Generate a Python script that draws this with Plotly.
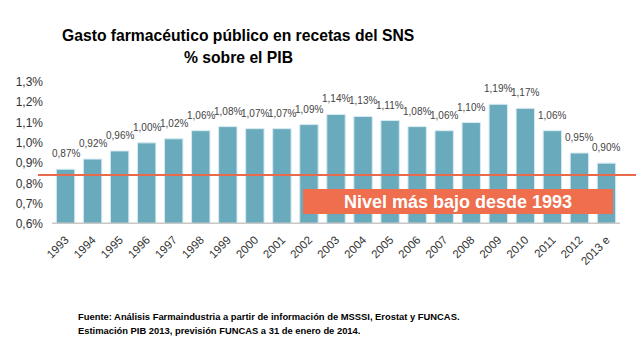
import plotly.graph_objects as go

years = ["1993", "1994", "1995", "1996", "1997", "1998", "1999", "2000", "2001", "2002",
         "2003", "2004", "2005", "2006", "2007", "2008", "2009", "2010", "2011", "2012", "2013 e"]
values = [0.87, 0.92, 0.96, 1.00, 1.02, 1.06, 1.08, 1.07, 1.07, 1.09,
          1.14, 1.13, 1.11, 1.08, 1.06, 1.10, 1.19, 1.17, 1.06, 0.95, 0.90]
labels = [f"{v:.2f}%".replace(".", ",") for v in values]
y_ticks = [0.6, 0.7, 0.8, 0.9, 1.0, 1.1, 1.2, 1.3]
y_ticktext = [f"{v:.1f}%".replace(".", ",") for v in y_ticks]
min_level = 0.842

FONT = "Liberation Sans, Arial, sans-serif"

H = 348
L, R, T, B = 52, 16, 82, 124
PW = 636 - L - R
PH = H - T - B


def py(pix):
    return (H - B - pix) / PH


def px(pix):
    return (pix - L) / PW


fig = go.Figure()
fig.add_trace(go.Bar(
    x=years, y=values,
    marker=dict(color="#69ABBC", line=dict(color="#D6EAF0", width=1)),
    width=0.68,
    hoverinfo="skip",
))

annots = []
for i, (v, lab) in enumerate(zip(values, labels)):
    annots.append(dict(x=i, y=v, xref="x", yref="y", text=lab, showarrow=False,
                       xanchor="center", yanchor="bottom", yshift=8,
                       font=dict(family=FONT, size=10, color="#444444")))

annots.append(dict(xref="paper", yref="paper", x=px(458), y=py(201.5),
                   xanchor="center", yanchor="middle",
                   text="<b>Nivel más bajo desde 1993</b>", showarrow=False,
                   font=dict(family=FONT, size=18, color="white")))
annots.append(dict(xref="paper", yref="paper", x=px(238), y=py(35),
                   xanchor="center", yanchor="middle",
                   text="<b>Gasto farmacéutico público en recetas del SNS</b>", showarrow=False,
                   font=dict(family=FONT, size=15.7, color="#000000")))
annots.append(dict(xref="paper", yref="paper", x=px(238), y=py(57),
                   xanchor="center", yanchor="middle",
                   text="<b>% sobre el PIB</b>", showarrow=False,
                   font=dict(family=FONT, size=15.7, color="#000000")))
annots.append(dict(xref="paper", yref="paper", x=px(76), y=py(316),
                   xanchor="left", yanchor="middle",
                   text="<b>Fuente: Análisis Farmaindustria a partir de información de MSSSI, Erostat y FUNCAS.</b>",
                   showarrow=False, font=dict(family=FONT, size=9.4, color="#000000")))
annots.append(dict(xref="paper", yref="paper", x=px(76), y=py(330),
                   xanchor="left", yanchor="middle",
                   text="<b>Estimación PIB 2013, previsión FUNCAS a 31 de enero de 2014.</b>",
                   showarrow=False, font=dict(family=FONT, size=9.4, color="#000000")))

shapes = [
    dict(type="line", xref="paper", yref="y", x0=0, x1=1, y0=0.6, y1=0.6,
         line=dict(color="#C8C8C8", width=3), layer="above"),
    dict(type="line", xref="paper", yref="y", x0=px(38), x1=px(640), y0=min_level, y1=min_level,
         line=dict(color="#E8694C", width=2), layer="above"),
    dict(type="rect", xref="paper", yref="paper", x0=px(303), x1=px(613), y0=py(214), y1=py(189),
         fillcolor="#EE6E4E", line=dict(width=0), layer="above"),
]

fig.update_layout(
    width=636, height=348,
    margin=dict(l=L, r=R, t=T, b=B),
    paper_bgcolor="white", plot_bgcolor="white",
    showlegend=False,
    font=dict(family=FONT),
    annotations=annots,
    shapes=shapes,
    xaxis=dict(type="category", tickangle=-45, tickfont=dict(family=FONT, size=11.5, color="#333333"),
               showgrid=False, showline=False, ticks="", range=[-0.5, 20.5], ticklabelstandoff=6),
    yaxis=dict(range=[0.6, 1.3], tickvals=y_ticks, ticktext=y_ticktext,
               tickfont=dict(family=FONT, size=12, color="#333333"),
               showgrid=False, zeroline=False, showline=False, ticks="", ticklabelstandoff=8),
)

fig.write_html("out.html")
